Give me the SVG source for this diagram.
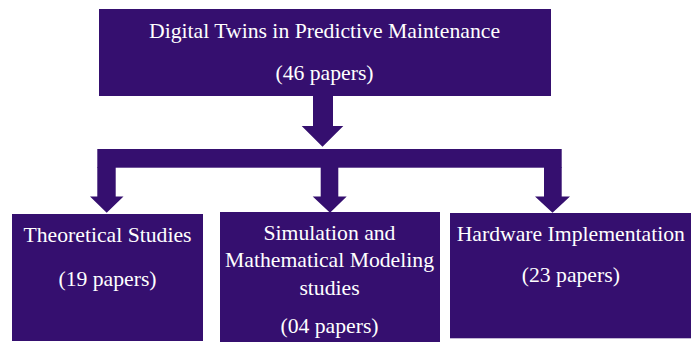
<svg xmlns="http://www.w3.org/2000/svg" width="695" height="342" viewBox="0 0 695 342">
  <style>
    .box { fill: #350f6f; }
    .conn { fill: #350f6f; }
    .t { font-family: "Liberation Serif", "Times New Roman", serif; font-size: 21.7px; fill: #ffffff; text-anchor: middle; }
  </style>
  <rect width="695" height="342" fill="#ffffff"/>
  <g id="connectors">
    <polygon class="conn" points="313,96 333,96 333,126 343.3,126 322.5,146.7 301.7,126 313,126"/>
    <rect class="conn" x="97.3" y="149" width="464.4" height="18.7"/>
    <polygon class="conn" points="97.3,167 115.7,167 115.7,196.5 123.5,196.5 106.7,212.7 90,196.5 97.3,196.5"/>
    <polygon class="conn" points="320.7,167 338.3,167 338.3,196.5 346.7,196.5 330,212.7 312.7,196.5 320.7,196.5"/>
    <polygon class="conn" points="544,167 561.7,167 561.7,196.5 570,196.5 552.5,212.7 535,196.5 544,196.5"/>
  </g>
  <g id="root">
    <rect class="box" x="99" y="9" width="452" height="87"/>
    <text class="t" x="324.5" y="38.3">Digital Twins in Predictive Maintenance</text>
    <text class="t" x="324.5" y="80">(46 papers)</text>
  </g>
  <g id="theoretical">
    <rect class="box" x="12" y="214" width="191" height="127"/>
    <text class="t" x="107.5" y="241.7">Theoretical Studies</text>
    <text class="t" x="107.5" y="285.5">(19 papers)</text>
  </g>
  <g id="simulation">
    <rect class="box" x="220" y="212" width="220" height="130"/>
    <text class="t" x="329.5" y="240">Simulation and</text>
    <text class="t" x="329.5" y="267.3">Mathematical Modeling</text>
    <text class="t" x="329.5" y="295">studies</text>
    <text class="t" x="329.5" y="333.3">(04 papers)</text>
  </g>
  <g id="hardware">
    <rect class="box" x="450" y="213" width="241" height="125.3"/>
    <text class="t" x="570.8" y="240.5">Hardware Implementation</text>
    <text class="t" x="570.8" y="282">(23 papers)</text>
  </g>
</svg>
